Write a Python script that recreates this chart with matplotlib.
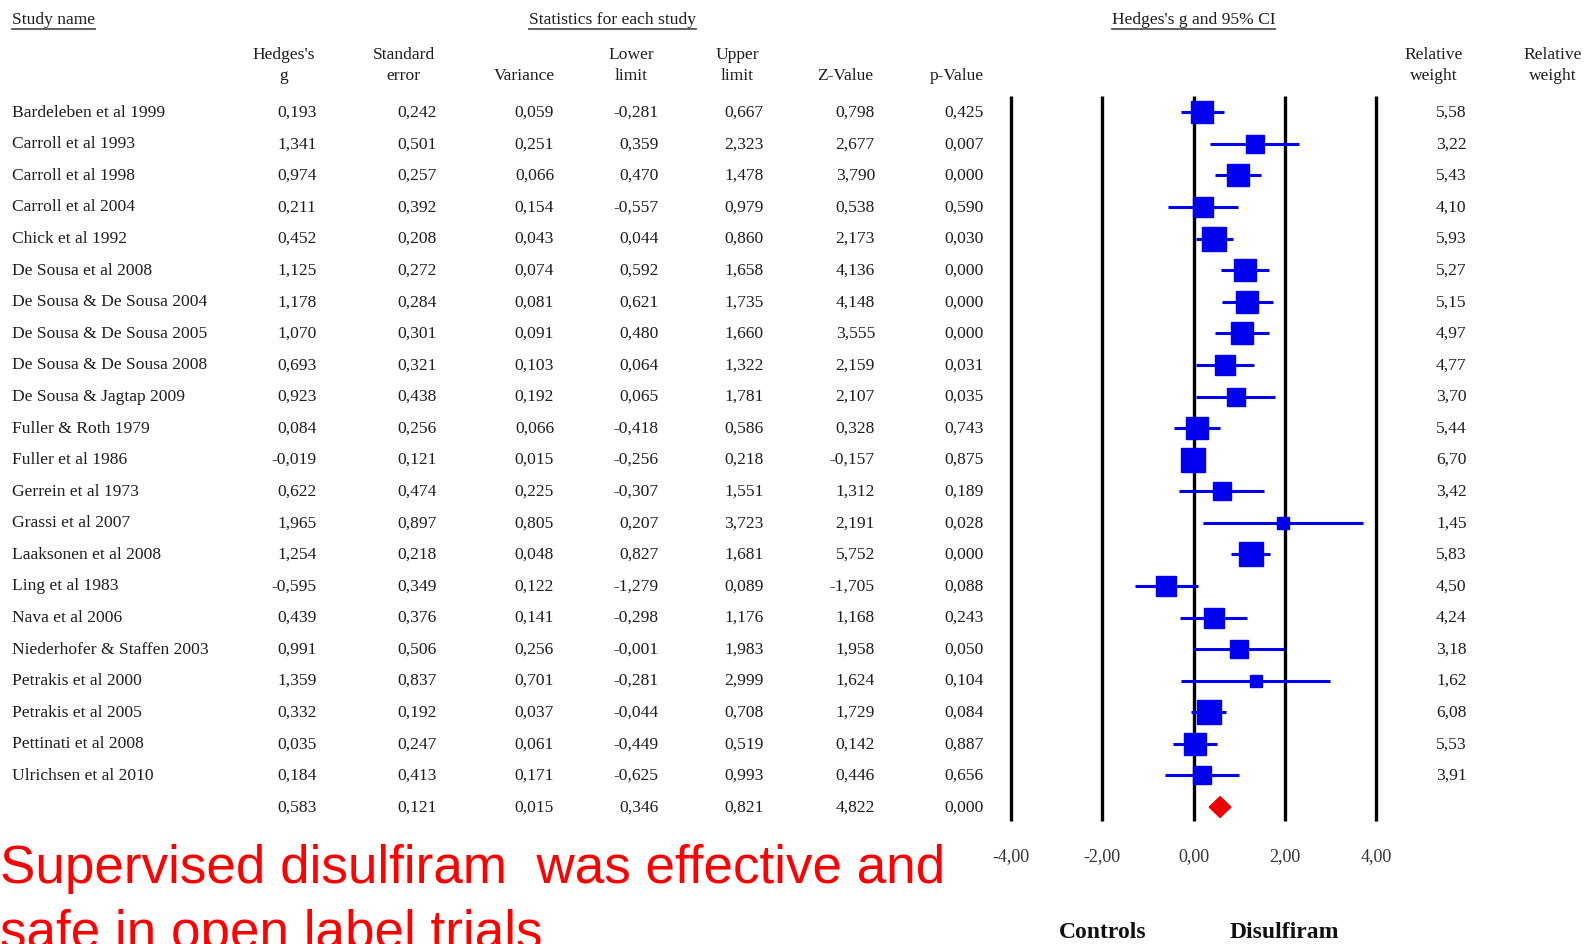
import matplotlib
matplotlib.use('Agg')
import matplotlib.pyplot as plt
from matplotlib.transforms import blended_transform_factory
from matplotlib.lines import Line2D
import numpy as np

studies = ["Bardeleben et al 1999", "Carroll et al 1993", "Carroll et al 1998",
           "Carroll et al 2004", "Chick et al 1992", "De Sousa et al 2008",
           "De Sousa & De Sousa 2004", "De Sousa & De Sousa 2005",
           "De Sousa & De Sousa 2008", "De Sousa & Jagtap 2009", "Fuller & Roth 1979",
           "Fuller et al 1986", "Gerrein et al 1973", "Grassi et al 2007",
           "Laaksonen et al 2008", "Ling et al 1983", "Nava et al 2006",
           "Niederhofer & Staffen 2003", "Petrakis et al 2000", "Petrakis et al 2005",
           "Pettinati et al 2008", "Ulrichsen et al 2010"]
hedges_g = [0.193, 1.341, 0.974, 0.211, 0.452, 1.125, 1.178, 1.070, 0.693, 0.923, 0.084,
            -0.019, 0.622, 1.965, 1.254, -0.595, 0.439, 0.991, 1.359, 0.332, 0.035, 0.184]
std_err = [0.242, 0.501, 0.257, 0.392, 0.208, 0.272, 0.284, 0.301, 0.321, 0.438, 0.256,
           0.121, 0.474, 0.897, 0.218, 0.349, 0.376, 0.506, 0.837, 0.192, 0.247, 0.413]
variance = [0.059, 0.251, 0.066, 0.154, 0.043, 0.074, 0.081, 0.091, 0.103, 0.192, 0.066,
            0.015, 0.225, 0.805, 0.048, 0.122, 0.141, 0.256, 0.701, 0.037, 0.061, 0.171]
lower = [-0.281, 0.359, 0.470, -0.557, 0.044, 0.592, 0.621, 0.480, 0.064, 0.065, -0.418,
         -0.256, -0.307, 0.207, 0.827, -1.279, -0.298, -0.001, -0.281, -0.044, -0.449, -0.625]
upper = [0.667, 2.323, 1.478, 0.979, 0.860, 1.658, 1.735, 1.660, 1.322, 1.781, 0.586,
         0.218, 1.551, 3.723, 1.681, 0.089, 1.176, 1.983, 2.999, 0.708, 0.519, 0.993]
z_value = [0.798, 2.677, 3.790, 0.538, 2.173, 4.136, 4.148, 3.555, 2.159, 2.107, 0.328,
           -0.157, 1.312, 2.191, 5.752, -1.705, 1.168, 1.958, 1.624, 1.729, 0.142, 0.446]
p_value = [0.425, 0.007, 0.000, 0.590, 0.030, 0.000, 0.000, 0.000, 0.031, 0.035, 0.743,
           0.875, 0.189, 0.028, 0.000, 0.088, 0.243, 0.050, 0.104, 0.084, 0.887, 0.656]
rel_weight = [5.58, 3.22, 5.43, 4.10, 5.93, 5.27, 5.15, 4.97, 4.77, 3.70, 5.44,
              6.70, 3.42, 1.45, 5.83, 4.50, 4.24, 3.18, 1.62, 6.08, 5.53, 3.91]
# summary: g, se, variance, lower, upper, z, p
summary = [0.583, 0.121, 0.015, 0.346, 0.821, 4.822, 0.000]
axis_ticks = [-4, -2, 0, 2, 4]

W, H = 1586, 944
fig = plt.figure(figsize=(W / 100, H / 100), dpi=100)
x_px0, x_px1 = 1011.0, 1376.0
ppu = (x_px1 - x_px0) / 8.0
left_px = x_px0 - 0.4 * ppu
ax = fig.add_axes([left_px / W, 0, 8.8 * ppu / W, 1])
ax.set_xlim(-4.4, 4.4)
y0, dy = 112.3, 31.58
ax.set_ylim((H - y0) / dy, -y0 / dy)
ax.axis('off')


def py(px):
    return (px - y0) / dy


serif = 'Liberation Serif'
tc = '#1e1e1e'
fs = 12.6
boff = 4.4 / dy  # baseline offset from row centre


def fmt(v):
    return f"{v:.3f}".replace('.', ',')


tr = blended_transform_factory(fig.transFigure, ax.transData)

# vertical reference lines
ax.vlines(axis_ticks, -0.52, 22.44, color='black', lw=2.4, zorder=1)
for t in axis_ticks:
    ax.text(t, py(861.5), f"{t:.2f}".replace('.', ','), ha='center', va='baseline',
            fontsize=13, family=serif, color='#333333')

n = len(studies)
rows = np.arange(n)
ax.hlines(rows, lower, upper, color='#0000ee', lw=2.2, zorder=2)
for i in range(n):
    ms = 6.9 * np.sqrt(rel_weight[i])
    ax.plot(hedges_g[i], rows[i], marker='s', ms=ms, color='#0000ee', mec='#0000ee',
            zorder=3)

# summary diamond
sy = n
hh = 0.33
ax.fill([summary[3], summary[0], summary[4], summary[0]],
        [sy, sy - hh, sy, sy + hh], color='#ee0000', zorder=3)

# table columns (right edges in px)
col_right = [316.6, 437, 554, 658.4, 763.6, 875, 984]
col_vals = [hedges_g, std_err, variance, lower, upper, z_value, p_value]
for i in range(n):
    ax.text(12 / W, i + boff, studies[i], transform=tr, ha='left', va='baseline',
            fontsize=fs, family=serif, color=tc)
    for cx, vals in zip(col_right, col_vals):
        ax.text(cx / W, i + boff, fmt(vals[i]), transform=tr, ha='right', va='baseline',
                fontsize=fs, family=serif, color=tc)
    ax.text(1466.6 / W, i + boff, f"{rel_weight[i]:.2f}".replace('.', ','), transform=tr,
            ha='right', va='baseline', fontsize=fs, family=serif, color=tc)
for cx, v in zip(col_right, summary):
    ax.text(cx / W, n + boff, fmt(v), transform=tr, ha='right', va='baseline',
            fontsize=fs, family=serif, color=tc)

# headers
r1, r2 = py(59.0), py(80.3)
two_line = [(284, "Hedges's", "g"), (403.6, "Standard", "error"), (631, "Lower", "limit"),
            (737, "Upper", "limit"), (1434, "Relative", "weight"), (1552.6, "Relative", "weight")]
for cx, a, b in two_line:
    ax.text(cx / W, r1, a, transform=tr, ha='center', va='baseline', fontsize=fs,
            family=serif, color=tc)
    ax.text(cx / W, r2, b, transform=tr, ha='center', va='baseline', fontsize=fs,
            family=serif, color=tc)
for cx, a in [(524, "Variance"), (845.6, "Z-Value"), (957, "p-Value")]:
    ax.text(cx / W, r2, a, transform=tr, ha='center', va='baseline', fontsize=fs,
            family=serif, color=tc)

rh = py(23.8)
under = []
under.append(ax.text(12 / W, rh, "Study name", transform=tr, ha='left', va='baseline',
                     fontsize=fs, family=serif, color=tc))
under.append(ax.text(612.5 / W, rh, "Statistics for each study", transform=tr, ha='center',
                     va='baseline', fontsize=fs, family=serif, color=tc))
under.append(ax.text(1193.5 / W, rh, "Hedges's g and 95% CI", transform=tr, ha='center',
                     va='baseline', fontsize=fs, family=serif, color=tc))

ax.text(-2, py(938.5), "Controls", ha='center', va='baseline', fontsize=17,
        family=serif, weight='bold', color='#111111')
ax.text(2, py(938.5), "Disulfiram", ha='center', va='baseline', fontsize=17,
        family=serif, weight='bold', color='#111111')

fig.text(0 / W, 1 - 883 / H, "Supervised disulfiram  was effective and", ha='left',
         va='baseline', fontsize=38.2, family='Liberation Sans', color='#ff0000')
fig.text(0 / W, 1 - 948 / H, "safe in open label trials", ha='left',
         va='baseline', fontsize=38.2, family='Liberation Sans', color='#ff0000')

fig.canvas.draw()
renderer = fig.canvas.get_renderer()
for t in under:
    bb = t.get_window_extent(renderer)
    yline = bb.y0 - 1.0
    fig.add_artist(Line2D([bb.x0 / W, bb.x1 / W], [yline / H, yline / H],
                          transform=fig.transFigure, color='#555555', lw=1.3))

fig.savefig('out.png', dpi=100)
